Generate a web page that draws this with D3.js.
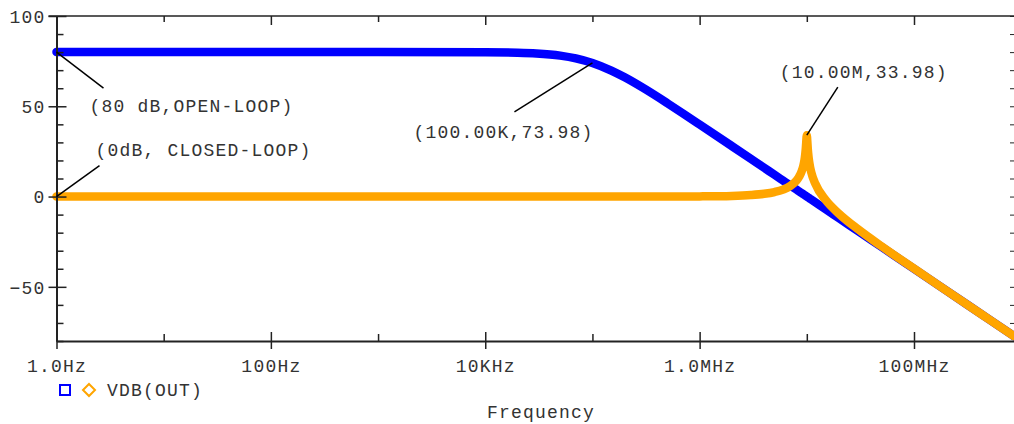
<!DOCTYPE html>
<html>
<head>
<meta charset="utf-8">
<script src="https://cdn.jsdelivr.net/npm/d3@7"></script>
<style>
  body { margin: 0; background: #fff; }
  svg text { font-family: "Liberation Mono", "Courier New", monospace; fill: #333; }
</style>
</head>
<body>
<div id="chart"></div>
<script>
// Bode plot: open-loop vs closed-loop gain
const FREQ = [1, 10, 100, 1e3, 1e4, 2e4, 3e4, 5e4, 7e4, 1e5, 1.5e5, 2e5, 3e5, 5e5, 7e5,
  1e6, 2e6, 3e6, 4e6, 5e6, 6e6, 7e6, 8e6, 8.5e6, 9e6, 9.3e6, 9.5e6, 9.6e6, 9.7e6, 9.8e6,
  9.9e6, 9.95e6, 1e7, 1.005e7, 1.01e7, 1.02e7, 1.03e7, 1.05e7, 1.07e7, 1.1e7, 1.2e7,
  1.5e7, 2e7, 3e7, 5e7, 1e8, 2e8, 5e8, 8.57e8];
const OPEN_LOOP_DB = [80, 80, 80, 80, 79.91, 79.66, 79.25, 78.06, 76.54, 73.98, 69.76, 66.02, 60.0, 51.70, 46.02,
  39.91, 27.94, 20.91, 15.91, 12.04, 8.87, 6.19, 3.87, 2.82, 1.83, 1.26, 0.89, 0.71, 0.53, 0.35,
  0.17, 0.09, 0.0, -0.09, -0.17, -0.34, -0.51, -0.85, -1.18, -1.66, -3.17,
  -7.04, -12.04, -19.08, -27.96, -40.0, -52.04, -67.96, -77.32];
const CLOSED_LOOP_DB = [0, 0, 0, 0, 0, 0, 0, 0, 0, 0, 0, 0, 0.01, 0.02, 0.04,
  0.09, 0.35, 0.82, 1.51, 2.50, 3.87, 5.85, 8.86, 11.11, 14.38, 17.30, 20.05, 21.85, 24.11, 27.08,
  31.01, 33.03, 33.98, 32.99, 30.93, 26.90, 23.85, 19.61, 16.69, 13.51, 7.12,
  -1.94, -9.54, -18.06, -27.60, -39.91, -52.02, -67.96, -77.32];

const X_TICKS = [1, 10, 100, 1e3, 1e4, 1e5, 1e6, 1e7, 1e8];
const X_TICK_LABELS = ['1.0Hz', '', '100Hz', '', '10KHz', '', '1.0MHz', '', '100MHz'];
const Y_MAJOR = [-50, 0, 50, 100];
const Y_MINOR = [-80, -70, -60, -40, -30, -20, -10, 10, 20, 30, 40, 60, 70, 80, 90];

const ANNOTATIONS = [
  { f: 1,   db: 80,    text: '(80 dB,OPEN-LOOP)' },
  { f: 1,   db: 0,     text: '(0dB, CLOSED-LOOP)' },
  { f: 1e5, db: 73.98, text: '(100.00K,73.98)' },
  { f: 1e7, db: 33.98, text: '(10.00M,33.98)' }
];
// leader end / label start, relative to the data point
const ANN_LAYOUT = [
  { lx: 47, ly: 36,  tx: 33,   ty: 60 },
  { lx: 43, ly: -31, tx: 39,   ty: -41 },
  { lx: -78, ly: 49, tx: -179, ty: 75 },
  { lx: 31, ly: -48, tx: -27,  ty: -57 }
];

const W = 1014, H = 424;
const LEFT = 56.5, RIGHT = 1014, TOP = 16, BOTTOM = 341;

const svg = d3.select('#chart').append('svg')
  .attr('width', W).attr('height', H);

const x = d3.scaleLog().domain([1, 8.57e8]).range([LEFT, RIGHT]);
const y = d3.scaleLinear().domain([-80, 100]).range([BOTTOM, TOP]);

const FONT = { 'font-size': '18px', 'letter-spacing': '1.2px' };

// ─── curves ───────────────────────────────────────────────
const line = d3.line()
  .x(d => x(d[0]))
  .y(d => y(d[1]))
  .curve(d3.curveMonotoneX);

const series = [
  { values: OPEN_LOOP_DB,   color: '#0000ff' },
  { values: CLOSED_LOOP_DB, color: '#ffa500' }
];

svg.selectAll('.trace')
  .data(series)
  .join('path')
    .attr('class', 'trace')
    .attr('d', s => line(FREQ.map((f, i) => [f, s.values[i]])))
    .attr('fill', 'none')
    .attr('stroke', s => s.color)
    .attr('stroke-width', 8.5)
    .attr('stroke-linecap', 'round')
    .attr('stroke-linejoin', 'round');

// ─── axes ─────────────────────────────────────────────────
const axisColor = '#222';

// bottom
const xAxis = svg.append('g')
  .attr('transform', `translate(0,${BOTTOM})`)
  .call(d3.axisBottom(x).tickValues(X_TICKS).tickFormat((d, i) => X_TICK_LABELS[i]).tickSizeOuter(0));
xAxis.select('.domain').attr('stroke', axisColor).attr('stroke-width', 2);
xAxis.selectAll('.tick line')
  .attr('stroke', axisColor).attr('stroke-width', 1.5)
  .attr('y1', (d, i) => X_TICK_LABELS[i] ? -9 : -7)
  .attr('y2', (d, i) => X_TICK_LABELS[i] ? 8 : 0);
xAxis.selectAll('.tick text')
  .attr('y', 31).attr('dy', 0)
  .attr('font-size', FONT['font-size']).attr('letter-spacing', FONT['letter-spacing'])
  .attr('fill', '#333');

// top
const xTop = svg.append('g')
  .attr('transform', `translate(0,${TOP})`)
  .call(d3.axisTop(x).tickValues(X_TICKS).tickFormat('').tickSizeOuter(0));
xTop.select('.domain').attr('stroke', axisColor).attr('stroke-width', 1.5)
  .attr('d', `M${LEFT - 8},0H${RIGHT}`);
xTop.selectAll('.tick line')
  .attr('stroke', axisColor).attr('stroke-width', 1.5)
  .attr('y1', 0)
  .attr('y2', (d, i) => X_TICK_LABELS[i] ? 9 : 6);

// left
const yAxis = svg.append('g')
  .attr('transform', `translate(${LEFT},0)`)
  .call(d3.axisLeft(y).tickValues(Y_MAJOR).tickSizeOuter(0));
yAxis.select('.domain').attr('stroke', axisColor).attr('stroke-width', 2);
yAxis.selectAll('.tick line')
  .attr('stroke', axisColor).attr('stroke-width', 1.5)
  .attr('x1', -8).attr('x2', 10);
yAxis.selectAll('.tick text')
  .attr('x', -11).attr('dy', '0.35em')
  .attr('font-size', FONT['font-size']).attr('letter-spacing', FONT['letter-spacing'])
  .attr('fill', '#333');

svg.append('g')
  .attr('transform', `translate(${LEFT},0)`)
  .call(d3.axisRight(y).tickValues(Y_MINOR).tickFormat('').tickSize(7).tickSizeOuter(0))
  .call(g => g.select('.domain').remove())
  .selectAll('.tick line').attr('stroke', axisColor).attr('stroke-width', 1.5);

// right (ticks only, pointing inward)
svg.append('g')
  .attr('transform', `translate(${RIGHT},0)`)
  .call(d3.axisLeft(y).tickValues(Y_MAJOR.concat(Y_MINOR)).tickFormat('').tickSize(4).tickSizeOuter(0))
  .call(g => g.select('.domain').remove())
  .selectAll('.tick line').attr('stroke', axisColor).attr('stroke-width', 1);

// ─── annotations ──────────────────────────────────────────
const ann = svg.selectAll('.ann')
  .data(ANNOTATIONS)
  .join('g')
    .attr('class', 'ann')
    .attr('transform', d => `translate(${x(d.f)},${y(d.db)})`);

ann.append('line')
  .attr('x1', 0).attr('y1', 0)
  .attr('x2', (d, i) => ANN_LAYOUT[i].lx)
  .attr('y2', (d, i) => ANN_LAYOUT[i].ly)
  .attr('stroke', '#000').attr('stroke-width', 1.5);

ann.append('text')
  .attr('x', (d, i) => ANN_LAYOUT[i].tx)
  .attr('y', (d, i) => ANN_LAYOUT[i].ty)
  .attr('font-size', FONT['font-size']).attr('letter-spacing', FONT['letter-spacing'])
  .text(d => d.text);

// ─── legend + axis title ──────────────────────────────────
const legend = svg.append('g').attr('transform', 'translate(65,390)');
legend.append('rect')
  .attr('x', -5).attr('y', -5).attr('width', 10).attr('height', 10)
  .attr('fill', 'none').attr('stroke', '#0000ff').attr('stroke-width', 2);
legend.append('path')
  .attr('d', 'M24,-6L30,0L24,6L18,0Z')
  .attr('fill', 'none').attr('stroke', '#ffa500').attr('stroke-width', 2);
legend.append('text')
  .attr('x', 42).attr('y', 6)
  .attr('font-size', FONT['font-size']).attr('letter-spacing', FONT['letter-spacing'])
  .text('VDB(OUT)');

svg.append('text')
  .attr('x', 541).attr('y', 418)
  .attr('text-anchor', 'middle')
  .attr('font-size', FONT['font-size']).attr('letter-spacing', FONT['letter-spacing'])
  .text('Frequency');
</script>
</body>
</html>
